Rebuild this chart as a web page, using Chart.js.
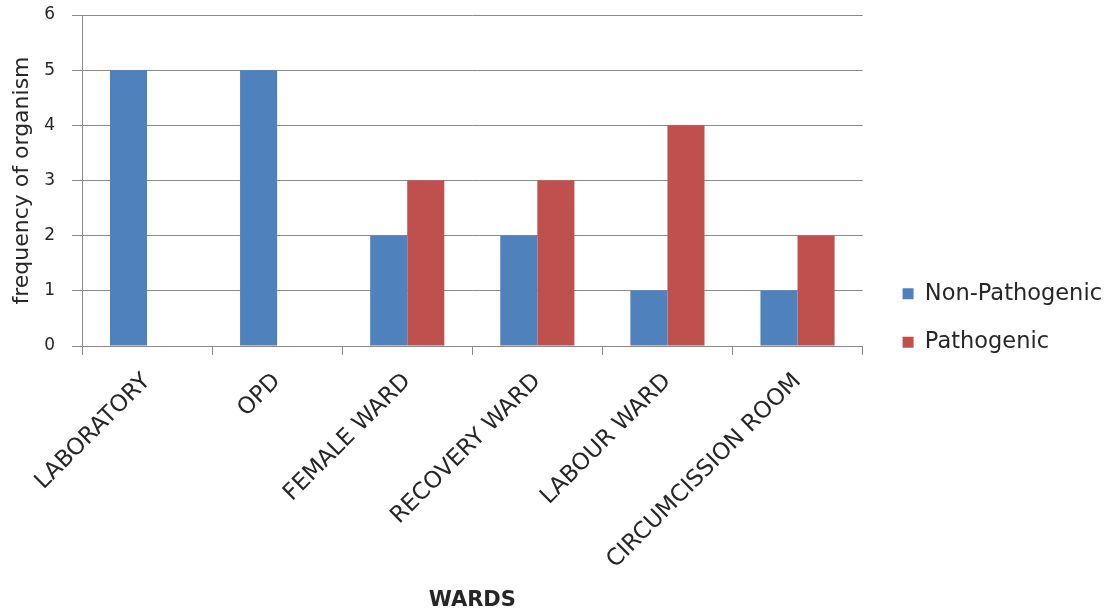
<!DOCTYPE html>
<html>
<head>
<meta charset="utf-8">
<script src="https://cdn.jsdelivr.net/npm/chart.js@4.4.1/dist/chart.umd.min.js"></script>
<style>
  html, body { margin: 0; padding: 0; background: #fff; }
  #wrap { width: 1112px; height: 615px; }
</style>
</head>
<body>
<div id="wrap"><canvas id="c" width="1112" height="615"></canvas></div>
<script>
// Wards sampled and organism counts per ward
const wards = ["LABORATORY", "OPD", "FEMALE WARD", "RECOVERY WARD", "LABOUR WARD", "CIRCUMCISSION ROOM"];
const nonPathogenic = [5, 5, 2, 2, 1, 1];
const pathogenic = [0, 0, 3, 3, 4, 2];
const yTicks = [0, 1, 2, 3, 4, 5, 6];

const FONT = "'DejaVu Sans', sans-serif";
const GRID = "#8a8a8a";
const TEXT = "#262626";

// Fixed axis block sizes so the plot area sits where intended
const Y_AXIS_WIDTH = 82;
const X_AXIS_HEIGHT = 269;
// Extra room between the plot area and the legend keys
const LEGEND_SHIFT_X = 14;
const LEGEND_SHIFT_Y = 3;

const legendNudge = {
  id: "legendNudge",
  afterLayout(chart) {
    const lg = chart.legend;
    if (!lg) return;
    lg.left += LEGEND_SHIFT_X;
    lg.right += LEGEND_SHIFT_X;
    lg.top += LEGEND_SHIFT_Y;
    lg.bottom += LEGEND_SHIFT_Y;
  }
};

new Chart(document.getElementById("c"), {
  type: "bar",
  data: {
    labels: wards,
    datasets: [
      { label: "Non-Pathogenic", data: nonPathogenic, backgroundColor: "#4F81BD" },
      { label: "Pathogenic", data: pathogenic, backgroundColor: "#C0504D" }
    ]
  },
  plugins: [legendNudge],
  options: {
    responsive: false,
    animation: false,
    devicePixelRatio: 1,
    categoryPercentage: 0.57,
    barPercentage: 1.0,
    layout: { padding: { top: 15, left: 0, right: 14, bottom: 0 } },
    plugins: {
      tooltip: { enabled: false },
      legend: {
        position: "right",
        labels: {
          boxWidth: 11,
          boxHeight: 11,
          padding: 26,
          color: TEXT,
          font: { family: FONT, size: 22.5 }
        }
      }
    },
    scales: {
      x: {
        afterFit(axis) {
          axis.height = X_AXIS_HEIGHT;
          axis.paddingLeft = 0;
          axis.paddingRight = 0;
        },
        grid: {
          display: true,
          offset: true,
          drawOnChartArea: false,
          drawTicks: true,
          tickLength: 9,
          color: GRID
        },
        border: { display: true, color: GRID },
        ticks: {
          maxRotation: 45,
          minRotation: 45,
          autoSkip: false,
          color: TEXT,
          padding: 13,
          font: { family: FONT, size: 23 }
        },
        title: {
          display: true,
          text: "WARDS",
          color: TEXT,
          font: { family: FONT, size: 21, weight: "bold" },
          padding: { top: 0, bottom: 2 }
        }
      },
      y: {
        min: 0,
        max: 6,
        afterBuildTicks: (axis) => { axis.ticks = yTicks.map(v => ({ value: v })); },
        afterFit(axis) {
          axis.width = Y_AXIS_WIDTH;
          axis.paddingTop = 0;
          axis.paddingBottom = 0;
        },
        grid: {
          color: GRID,
          drawTicks: true,
          tickLength: 10
        },
        border: { display: true, color: GRID },
        ticks: {
          color: TEXT,
          padding: 17,
          font: { family: FONT, size: 17 }
        },
        title: {
          display: true,
          text: "frequency of organism",
          color: TEXT,
          font: { family: FONT, size: 22 },
          padding: { top: 9, bottom: 0 }
        }
      }
    }
  }
});
</script>
</body>
</html>
